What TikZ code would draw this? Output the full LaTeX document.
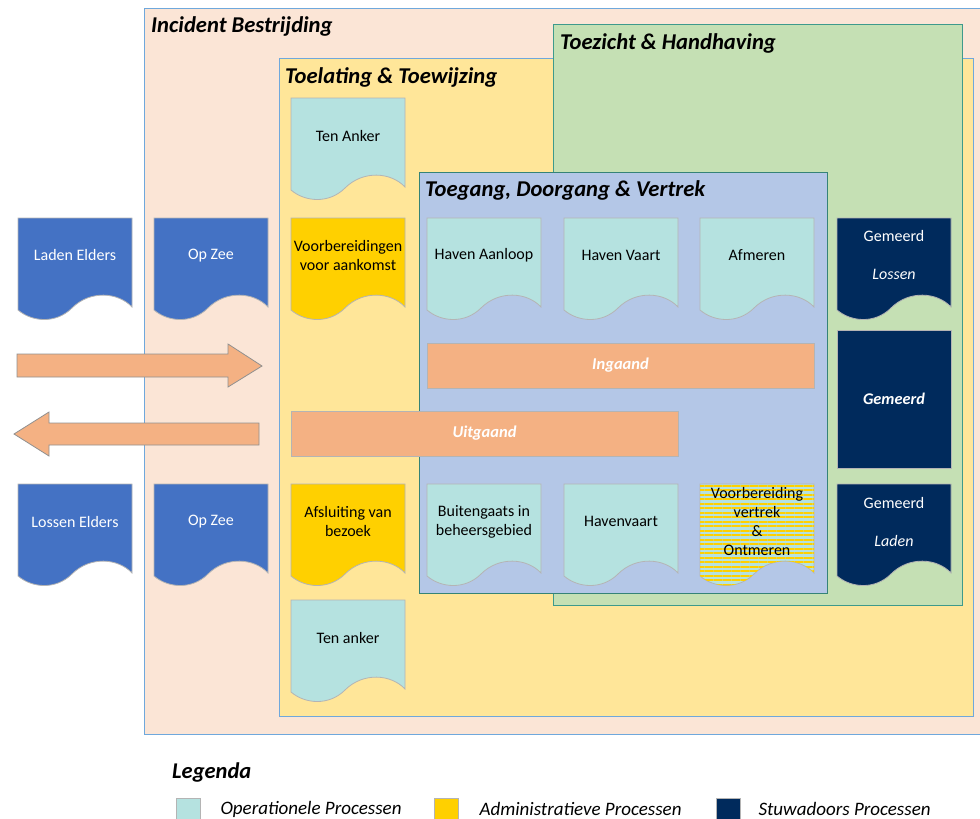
\documentclass[tikz,border=0pt]{standalone}
\usepackage{fontspec}
\setmainfont{Carlito}
\usetikzlibrary{positioning,patterns.meta}

\definecolor{peach}{HTML}{FBE5D6}
\definecolor{lyellow}{HTML}{FFE699}
\definecolor{lgreen}{HTML}{C5E0B4}
\definecolor{lblue}{HTML}{B4C7E7}
\definecolor{opteal}{HTML}{B5E2E0}
\definecolor{admgold}{HTML}{FFD000}
\definecolor{seablue}{HTML}{4472C4}
\definecolor{stunavy}{HTML}{002A5C}
\definecolor{barorange}{HTML}{F4B183}
\definecolor{frameblue}{HTML}{6FA8DC}
\definecolor{frameteal}{HTML}{3E9A8C}
\definecolor{shapeline}{HTML}{B4B4B4}

\tikzset{
  docline/.style={draw=shapeline, line width=0.8pt},
  doclabel/.style={inner sep=0pt, align=center, font=\fontsize{16}{19}\selectfont},
  framebox/.style={line width=0.9pt},
  title/.style={anchor=west, inner sep=0pt, font=\fontsize{22.6}{26}\selectfont\bfseries\itshape},
  bar/.style={draw=shapeline, line width=0.8pt, fill=barorange, text=white, inner sep=0pt,
    font=\fontsize{16.5}{19}\selectfont\bfseries\itshape},
  flowarrow/.style={draw=shapeline!80!black, line width=0.8pt, fill=barorange},
  swatch/.style={draw=shapeline, line width=0.6pt, minimum width=24pt, minimum height=22pt, inner sep=0pt},
  legtext/.style={inner sep=0pt, font=\fontsize{19}{22}\selectfont\itshape}
}

% document shape: name, x, y, fill options, text colour, text
\newcommand{\procdoc}[6]{%
  \begin{scope}[shift={(#2,#3)}]
    \path[docline, #4] (0,0) -- (114,0) -- (114,89)
      .. controls (100,74) and (72,72) .. (54,90)
      .. controls (38,106) and (14,104) .. (0,92) -- cycle;
    \node[doclabel, text=#5] (#1) at (57,37.5) {#6};
  \end{scope}}

\begin{document}
\begin{tikzpicture}[x=1pt,y=-1pt]
\useasboundingbox (0,0) rectangle (980,819);
\clip (0,0) rectangle (980,819);

% frames
\filldraw[framebox, draw=frameblue, fill=peach] (144,8) rectangle (990,734);
\filldraw[framebox, draw=frameblue, fill=lyellow] (279,58) rectangle (973,716);
\filldraw[framebox, draw=frameteal, fill=lgreen] (553,24) rectangle (962,605);
\filldraw[framebox, draw=frameteal!85!black, fill=lblue] (419,172) rectangle (827,593);

\node[title] (incident) at (151,26) {Incident Bestrijding};
\node[title] (toelating) at (285,77) {Toelating \& Toewijzing};
\node[title] (toezicht) at (560,43) {Toezicht \& Handhaving};
\node[title] (toegang) at (425,190) {Toegang, Doorgang \& Vertrek};

% top row
\procdoc{tenankerin}{291}{98}{fill=opteal}{black}{Ten Anker}
\procdoc{ladenelders}{18}{218}{fill=seablue}{white}{Laden Elders}
\procdoc{opzeein}{154}{218}{fill=seablue}{white}{Op Zee}
\procdoc{aankomst}{291}{218}{fill=admgold}{black}{Voorbereidingen\\voor aankomst}
\procdoc{havenaanloop}{427}{218}{fill=opteal}{black}{Haven Aanloop}
\procdoc{havenvaart}{564}{218}{fill=opteal}{black}{Haven Vaart}
\procdoc{afmeren}{700}{218}{fill=opteal}{black}{Afmeren}
\procdoc{gemeerdlossen}{837}{218}{fill=stunavy}{white}{Gemeerd\\[19pt]\textit{Lossen}}

% bottom row
\procdoc{lossenelders}{18}{484}{fill=seablue}{white}{Lossen Elders}
\procdoc{opzeeuit}{154}{484}{fill=seablue}{white}{Op Zee}
\procdoc{afsluiting}{291}{484}{fill=admgold}{black}{Afsluiting van\\bezoek}
\procdoc{buitengaats}{427}{484}{fill=opteal}{black}{Buitengaats in\\beheersgebied}
\procdoc{havenvaartuit}{564}{484}{fill=opteal}{black}{Havenvaart}
\procdoc{vertrek}{700}{484}{fill=opteal, postaction={pattern={Lines[angle=0,distance=4.5pt,line width=2pt]}, pattern color=admgold}}{black}{Voorbereiding\\vertrek\\\&\\Ontmeren}
\procdoc{gemeerdladen}{837}{484}{fill=stunavy}{white}{Gemeerd\\[19pt]\textit{Laden}}
\procdoc{tenankeruit}{291}{600}{fill=opteal}{black}{Ten anker}

% moored
\node[draw=shapeline, line width=0.8pt, fill=stunavy, text=white, minimum width=114pt, minimum height=138pt,
  font=\fontsize{16.3}{19}\selectfont\bfseries\itshape] (gemeerd) at (894,399) {Gemeerd};

% in / out
\node[bar, minimum width=387pt, minimum height=45pt] (ingaand) at (620.5,365.5) {Ingaand};
\node[bar, minimum width=387pt, minimum height=45pt] (uitgaand) at (484.5,433.5) {Uitgaand};
\filldraw[flowarrow] (17,354) -- (228,354) -- (228,344) -- (262,366) -- (228,387) -- (228,377) -- (17,377) -- cycle;
\filldraw[flowarrow] (259,423) -- (49,423) -- (49,412) -- (14,434) -- (49,456) -- (49,445) -- (259,445) -- cycle;

% legend
\node[anchor=west, inner sep=0pt, font=\fontsize{22.5}{26}\selectfont\bfseries\itshape] (legenda) at (172,772) {Legenda};
\node[swatch, fill=opteal] (legop) at (188,809) {};
\node[legtext, right=20pt of legop] (legoptext) {Operationele Processen};
\node[swatch, fill=admgold] (legadm) at (446,809) {};
\node[legtext, right=21pt of legadm] (legadmtext) {Administratieve Processen};
\node[swatch, fill=stunavy] (legstu) at (728,809) {};
\node[legtext, right=18pt of legstu] (legstutext) {Stuwadoors Processen};
\end{tikzpicture}
\end{document}
